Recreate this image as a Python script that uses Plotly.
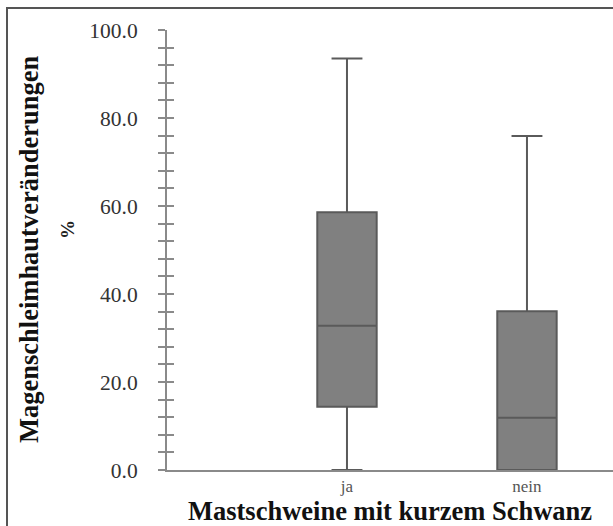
import plotly.graph_objects as go

categories = ["ja", "nein"]
lower_fence = [0.0, 0.0]
q1_values = [14.4, 0.0]
median_values = [32.8, 11.9]
q3_values = [58.6, 36.1]
upper_fence = [93.5, 75.9]

y_title = "Magenschleimhautveränderungen"
y_unit = "%"
x_title = "Mastschweine mit kurzem Schwanz"

W, H = 613, 526
L, R, T, B = 167, 0, 30, 56
pw, ph = W - L - R, H - T - B

def px_x(px):
    return (px - L) / pw

def px_y(py):
    return (H - B - py) / ph

serif = "Liberation Serif, Times New Roman, serif"

fig = go.Figure()
fig.add_trace(go.Box(
    x=categories,
    q1=q1_values, median=median_values, q3=q3_values,
    lowerfence=lower_fence, upperfence=upper_fence,
    fillcolor="#808080",
    line=dict(color="#5a5a5a", width=2),
    width=0.33,
    whiskerwidth=0.52,
    boxpoints=False,
    showlegend=False,
    hoverinfo="skip",
))
# helper trace so the overlaid axis (inner half of the tick crosses) is drawn
fig.add_trace(go.Scatter(x=[categories[0]], y=[None], yaxis="y2",
                         mode="markers", showlegend=False, hoverinfo="skip"))

axis_col = "#8a8a8a"
fig.update_layout(
    width=W, height=H,
    margin=dict(l=L, r=R, t=T, b=B),
    paper_bgcolor="white", plot_bgcolor="white",
    font=dict(family=serif, color="#333333"),
    xaxis=dict(
        type="category",
        range=[-1, 1.478],
        showgrid=False, zeroline=False,
        showline=True, linecolor=axis_col, linewidth=2,
        ticks="", ticklen=0,
        tickfont=dict(size=17, color="#555"),
        ticklabelstandoff=0,
        title=dict(text="<b>" + x_title + "</b>",
                   font=dict(size=26.5, color="#111", family=serif), standoff=2),
    ),
    yaxis=dict(
        range=[0, 100],
        showgrid=False, zeroline=False,
        showline=True, linecolor=axis_col, linewidth=2,
        tickvals=[0, 20, 40, 60, 80, 100],
        tickformat=".1f",
        ticks="outside", ticklen=7, tickcolor=axis_col, tickwidth=2,
        tickfont=dict(size=21.5, color="#333"),
        ticklabelstandoff=16,
        minor=dict(dtick=4, ticks="outside", ticklen=7, tickcolor=axis_col, tickwidth=2),
    ),
    yaxis2=dict(
        overlaying="y", side="left", range=[0, 100],
        showgrid=False, zeroline=False, showline=False,
        tickvals=[0, 20, 40, 60, 80, 100], showticklabels=False,
        ticks="inside", ticklen=7, tickcolor=axis_col, tickwidth=2,
        minor=dict(dtick=4, ticks="inside", ticklen=7, tickcolor=axis_col, tickwidth=2),
    ),
    annotations=[
        dict(text="<b>" + y_title + "</b>", xref="paper", yref="paper",
             x=px_x(29), y=px_y(250), xanchor="center", yanchor="middle",
             textangle=-90, showarrow=False,
             font=dict(size=26.5, color="#111", family=serif)),
        dict(text="<b>" + y_unit + "</b>", xref="paper", yref="paper",
             x=px_x(67), y=px_y(230), xanchor="center", yanchor="middle",
             textangle=-90, showarrow=False,
             font=dict(size=19, color="#222", family=serif)),
    ],
    shapes=[
        dict(type="rect", xref="paper", yref="paper",
             x0=px_x(7), y0=px_y(H + 20), x1=px_x(W + 20), y1=px_y(8),
             line=dict(color="#555", width=2), layer="above"),
    ],
)

fig.write_html("out.html", config={"displayModeBar": False},
               post_script="document.body.style.margin='0';")
